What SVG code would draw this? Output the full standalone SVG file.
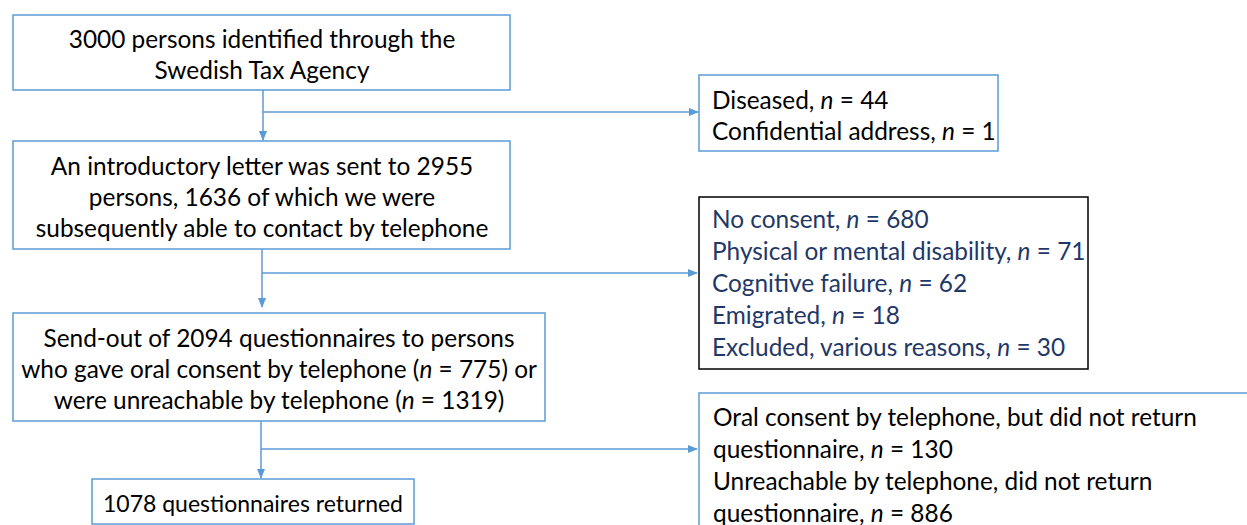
<svg xmlns="http://www.w3.org/2000/svg" width="1247" height="525" viewBox="0 0 1247 525">
<defs>
<marker id="ah" markerWidth="10" markerHeight="10" refX="9" refY="5" orient="auto" markerUnits="userSpaceOnUse">
<path d="M0,1 L10,5 L0,9 Z" fill="#5B9BD5"/>
</marker>
<style>
.box{fill:#fff;stroke:#5B9BD5;stroke-width:1.5}
.boxk{fill:#fff;stroke:#000;stroke-width:1.5}
.t{font-family:Lato,"Liberation Sans",sans-serif;font-size:24.4px;fill:#000}
.c{text-anchor:middle}
.nv{fill:#1F3868}
.i{font-style:italic}
.ln{fill:none;stroke:#5B9BD5;stroke-width:1.5}
</style>
</defs>
<rect width="1247" height="525" fill="#fff"/>
<g id="connectors">
<line class="ln" x1="263" y1="90" x2="263" y2="140" marker-end="url(#ah)"/>
<line class="ln" x1="263" y1="112" x2="698" y2="112" marker-end="url(#ah)"/>
<line class="ln" x1="262" y1="249" x2="262" y2="307" marker-end="url(#ah)"/>
<line class="ln" x1="262" y1="273" x2="697" y2="273" marker-end="url(#ah)"/>
<line class="ln" x1="261" y1="421" x2="261" y2="478" marker-end="url(#ah)"/>
<line class="ln" x1="261" y1="449" x2="697" y2="449" marker-end="url(#ah)"/>
</g>
<g id="n1">
<rect class="box" x="13" y="15" width="497" height="75"/>
<text class="t c" x="262" y="48">3000 persons identified through the</text>
<text class="t c" x="262" y="79">Swedish Tax Agency</text>
</g>
<g id="n2">
<rect class="box" x="699" y="75" width="299" height="76"/>
<text class="t" x="712" y="109">Diseased, <tspan class="i">n</tspan> = 44</text>
<text class="t" x="712" y="140">Confidential address, <tspan class="i">n</tspan> = 1</text>
</g>
<g id="n3">
<rect class="box" x="13" y="141" width="497" height="108"/>
<text class="t c" x="262" y="175">An introductory letter was sent to 2955</text>
<text class="t c" x="262" y="206">persons, 1636 of which we were</text>
<text class="t c" x="262" y="237">subsequently able to contact by telephone</text>
</g>
<g id="n4">
<rect class="boxk" x="699" y="197" width="389" height="172"/>
<text class="t nv" x="712" y="228">No consent, <tspan class="i">n</tspan> = 680</text>
<text class="t nv" x="712" y="260">Physical or mental disability, <tspan class="i">n</tspan> = 71</text>
<text class="t nv" x="712" y="292">Cognitive failure, <tspan class="i">n</tspan> = 62</text>
<text class="t nv" x="712" y="324">Emigrated, <tspan class="i">n</tspan> = 18</text>
<text class="t nv" x="712" y="356">Excluded, various reasons, <tspan class="i">n</tspan> = 30</text>
</g>
<g id="n5">
<rect class="box" x="13" y="313" width="532" height="108"/>
<text class="t c" x="279" y="347">Send-out of 2094 questionnaires to persons</text>
<text class="t c" x="279" y="378">who gave oral consent by telephone (<tspan class="i">n</tspan> = 775) or</text>
<text class="t c" x="279" y="409">were unreachable by telephone (<tspan class="i">n</tspan> = 1319)</text>
</g>
<g id="n6">
<rect class="box" x="92" y="479" width="322" height="45"/>
<text class="t c" x="253" y="512" style="font-size:23px">1078 questionnaires returned</text>
</g>
<g id="n7">
<rect class="box" x="699" y="393" width="600" height="200"/>
<text class="t" x="713" y="426">Oral consent by telephone, but did not return</text>
<text class="t" x="713" y="458">questionnaire, <tspan class="i">n</tspan> = 130</text>
<text class="t" x="713" y="490">Unreachable by telephone, did not return</text>
<text class="t" x="713" y="522">questionnaire, <tspan class="i">n</tspan> = 886</text>
</g>
</svg>
